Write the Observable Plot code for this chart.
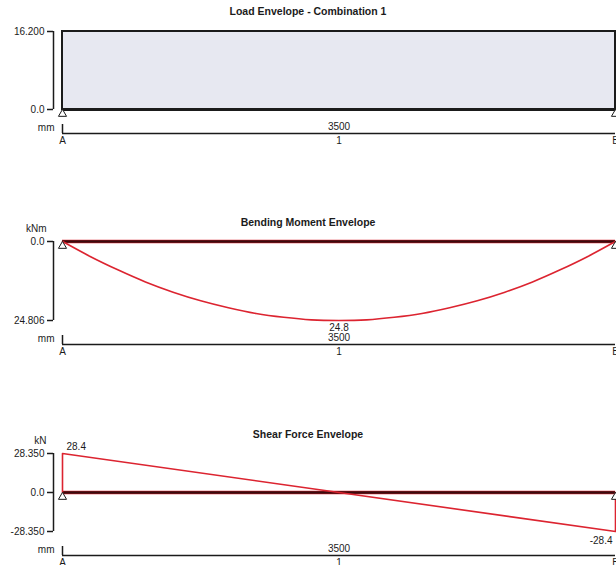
<!DOCTYPE html>
<html><head><meta charset="utf-8">
<script src="https://cdn.jsdelivr.net/npm/d3@7"></script>
<script src="https://cdn.jsdelivr.net/npm/@observablehq/plot@0.6"></script>
<style>
html,body{margin:0;padding:0;background:#fff;}
#chart{width:616px;}
#chart svg{display:block;}
</style></head><body><div id="chart"></div>
<script>
// Beam geometry (mm)
const spanLength = 3500;
const supportX = [0, 3500];
const supportNames = ["A", "B"];
const memberName = "1";
const spanLabel = "3500";

// Load envelope (kN/m)
const loadValue = 16.2;
const loadTicks = [0, 16.2];
const loadTickLabels = ["0.0", "16.200"];

// Bending moment envelope (kNm, sagging drawn downward)
const momentX = [0,175,350,525,700,875,1050,1225,1400,1575,1750,1925,2100,2275,2450,2625,2800,2975,3150,3325,3500];
const momentY = [0,4.7,8.9,12.7,15.9,18.6,20.8,22.6,23.8,24.6,24.806,24.6,23.8,22.6,20.8,18.6,15.9,12.7,8.9,4.7,0];
const momentTicks = [0, 24.806];
const momentTickLabels = ["0.0", "24.806"];
const momentPeakLabel = "24.8";

// Shear force envelope (kN)
const shearX = [0, 0, 3500, 3500];
const shearY = [0, 28.35, -28.35, 0];
const shearTicks = [-28.35, 0, 28.35];
const shearTickLabels = ["-28.350", "0.0", "28.350"];
const shearEndLabels = ["28.4", "-28.4"];

const RED = "#dc2430", DARK = "#3b0b0e", INK = "#1b1b1b";
const FONT = "'Liberation Sans', Arial, Helvetica, sans-serif";

function panel({title, height, marginTop, marginBottom, titleDy, yDomain, reverse = false, ticks, tickLabels, unit, marks}) {
  const bottomVal = reverse ? yDomain[1] : yDomain[0];
  const topVal = reverse ? yDomain[0] : yDomain[1];
  const labelMap = new Map(ticks.map((t, i) => [t, tickLabels[i]]));
  const mid = spanLength / 2;
  return Plot.plot({
    width: 616, height, marginLeft: 62, marginRight: 1, marginTop, marginBottom,
    style: {fontFamily: FONT, fontSize: "10px", color: INK, background: "white", overflow: "visible"},
    x: {domain: [0, spanLength], axis: null},
    y: {domain: yDomain, reverse},
    marks: [
      ...marks,
      Plot.dot(supportX, {x: d => d, y: 0, symbol: "triangle", r: 3, stroke: INK, strokeWidth: 1, fill: "white", dy: 4.5}),
      Plot.ruleX([0], {y1: ticks[0], y2: ticks[ticks.length - 1], dx: -9, stroke: INK, strokeWidth: 1.5}),
      Plot.axisY({ticks, tickSize: 6, tickPadding: 3, dx: -9, tickFormat: d => labelMap.get(d), label: null, stroke: INK, strokeWidth: 1.5, fill: INK, fontSize: 10}),
      unit ? Plot.text([unit], {x: 0, y: topVal, dx: -16, dy: -13, textAnchor: "end", fill: INK}) : null,
      Plot.text([title], {frameAnchor: "top", lineAnchor: "middle", dy: titleDy, dx: -31, fontWeight: "bold", fontSize: 10.5, fill: INK}),
      // dimension line
      Plot.ruleY([bottomVal], {dy: 24, stroke: INK, strokeWidth: 1.5}),
      Plot.ruleX([0], {y1: bottomVal, y2: bottomVal, insetTop: -9, dy: 24, stroke: INK, strokeWidth: 1.5}),
      Plot.text(["mm"], {x: 0, y: bottomVal, dx: -8, dy: 18, textAnchor: "end", fill: INK}),
      Plot.text([spanLabel], {x: mid, y: bottomVal, dy: 17, fill: INK}),
      Plot.text([memberName], {x: mid, y: bottomVal, dy: 31, fill: INK}),
      Plot.text(supportX, {x: d => d, y: bottomVal, text: (d, i) => supportNames[i], dy: 31, fill: INK})
    ].filter(Boolean)
  });
}

const loadTable = [{x1: supportX[0], x2: supportX[1], y1: 0, y2: loadValue}];
const momentTable = momentX.map((x, i) => ({x, y: momentY[i]}));
const shearTable = shearX.map((x, i) => ({x, y: shearY[i]}));
const peakIdx = d3.maxIndex(momentY);

const chart = document.getElementById("chart");

chart.append(panel({
  title: "Load Envelope - Combination 1",
  height: 210, marginTop: 31, marginBottom: 101, titleDy: -20,
  yDomain: [0, loadValue], ticks: loadTicks, tickLabels: loadTickLabels,
  marks: [
    Plot.rect(loadTable, {x1: "x1", x2: "x2", y1: "y1", y2: "y2", fill: "#e7e8f1", stroke: INK, strokeWidth: 2}),
    Plot.ruleY([0], {stroke: INK, strokeWidth: 3})
  ]
}));

chart.append(panel({
  title: "Bending Moment Envelope",
  height: 210, marginTop: 31, marginBottom: 100, titleDy: -19,
  yDomain: [0, momentTicks[1]], reverse: true, ticks: momentTicks, tickLabels: momentTickLabels, unit: "kNm",
  marks: [
    Plot.ruleY([0], {stroke: RED, strokeWidth: 3.4}),
    Plot.ruleY([0], {stroke: DARK, strokeWidth: 2.4}),
    Plot.line(momentTable, {x: "x", y: "y", stroke: RED, strokeWidth: 1.6, curve: "natural"}),
    Plot.text([momentPeakLabel], {x: momentX[peakIdx], y: momentY[peakIdx], dy: 7, fill: INK})
  ]
}));

chart.append(panel({
  title: "Shear Force Envelope",
  height: 145, marginTop: 33, marginBottom: 34, titleDy: -19,
  yDomain: [shearTicks[0], shearTicks[2]], ticks: shearTicks, tickLabels: shearTickLabels, unit: "kN",
  marks: [
    Plot.ruleY([0], {stroke: RED, strokeWidth: 3.4}),
    Plot.ruleY([0], {stroke: DARK, strokeWidth: 2.4}),
    Plot.line(shearTable, {x: "x", y: "y", stroke: RED, strokeWidth: 1.6}),
    Plot.text([shearTable[1]], {x: "x", y: "y", text: () => shearEndLabels[0], dx: 4, dy: -7, textAnchor: "start", fill: INK}),
    Plot.text([shearTable[2]], {x: "x", y: "y", text: () => shearEndLabels[1], dx: -3, dy: 9, textAnchor: "end", fill: INK})
  ]
}));
</script></body></html>
